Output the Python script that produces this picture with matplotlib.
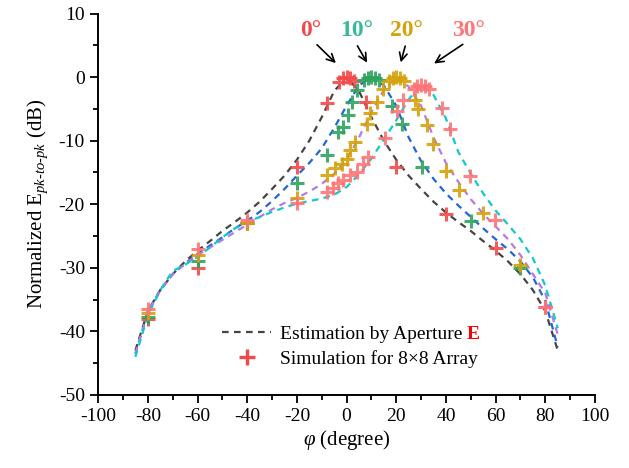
import matplotlib
matplotlib.use("Agg")
import matplotlib.pyplot as plt
from matplotlib.ticker import MultipleLocator
from matplotlib.lines import Line2D
from matplotlib.transforms import IdentityTransform

plt.rcParams['font.family'] = ['Liberation Serif', 'DejaVu Serif']
plt.rcParams['mathtext.fontset'] = 'custom'
plt.rcParams['mathtext.rm'] = 'Liberation Serif'
plt.rcParams['mathtext.it'] = 'Liberation Serif:italic'
plt.rcParams['mathtext.bf'] = 'Liberation Serif:bold'
plt.rcParams['axes.unicode_minus'] = False

# estimation by aperture E (dashed lines), steering 0/10/20/30 deg
est_phi = [-85, -80, -75, -70, -65, -60, -55, -50, -45, -40, -35, -30, -25, -20, -15, -10, -5,
           0, 5, 10, 15, 20, 25, 30, 35, 40, 45, 50, 55, 60, 65, 70, 75, 80, 85]
est_0 = [-43.0, -36.8, -33.5, -31.0, -29.0, -27.3, -25.8, -24.2, -22.8, -21.3, -19.6, -17.6, -15.5,
         -13.0, -10.0, -6.3, -2.2, 0.0, -2.2, -6.3, -10.0, -13.0, -15.5, -17.6, -19.6, -21.3, -22.8,
         -24.2, -25.8, -27.3, -29.0, -31.0, -33.5, -36.8, -43.0]
est_10 = [-43.5, -37.0, -33.5, -31.0, -29.3, -27.8, -26.5, -25.2, -23.8, -22.6, -21.2, -19.5, -17.6,
          -15.5, -13.5, -11.2, -8.0, -4.5, -1.3, 0.0, -1.3, -4.5, -9.5, -13.2, -16.0, -18.3, -20.2,
          -22.0, -23.8, -25.5, -27.1, -29.0, -31.5, -35.2, -42.5]
est_20 = [-43.5, -37.0, -33.5, -31.0, -29.4, -28.0, -26.8, -25.6, -24.4, -23.2, -22.0, -20.8, -19.8,
          -19.0, -18.0, -16.8, -15.2, -13.0, -9.5, -5.5, -2.0, 0.0, -1.5, -4.5, -9.5, -13.5, -16.5,
          -19.2, -21.5, -23.5, -25.5, -28.0, -31.0, -34.0, -40.5]
est_30 = [-44.0, -37.5, -33.5, -30.5, -29.5, -28.3, -26.8, -25.2, -23.8, -22.8, -22.0, -21.2, -20.5,
          -19.9, -19.5, -19.1, -18.5, -17.3, -15.3, -12.8, -9.8, -6.8, -3.5, -1.2, -2.8, -6.5, -11.8,
          -15.2, -18.3, -21.0, -23.2, -25.5, -28.5, -32.8, -39.5]

# simulation for 8x8 array (+ markers)
sim0_phi = [-80, -60, -40, -20, -8, -3, -1.5, 0, 1.5, 3, 8, 20, 40, 60, 80]
sim0_val = [-38.0, -30.0, -23.0, -14.1, -4.1, -0.7, -0.2, 0.0, -0.2, -0.6, -3.9, -14.1, -21.5,
            -26.9, -36.2]
sim10_phi = [-80, -60, -40, -20, -8, -3.3, -1.3, 0.7, 2.1, 4.1, 7, 8.5, 10, 11.5, 13,
             18.2, 22.2, 30.3, 50, 70]
sim10_val = [-37.8, -29.0, -23.0, -16.7, -12.2, -8.6, -7.8, -6.0, -3.9, -2.0, -0.5, -0.1, 0.0,
             -0.1, -0.5, -4.6, -7.4, -14.2, -22.6, -30.0]
sim20_phi = [-80, -60, -40, -20, -8, -4.6, -1.9, 0.1, 1.4, 3.4, 8.1, 9.5, 12.2, 14.8, 17, 18.5,
             20, 21.5, 23, 27.6, 28.9, 32.3, 34.6, 40, 45.4, 55, 70]
sim20_val = [-37.1, -28.0, -23.0, -19.0, -15.4, -14.3, -13.6, -12.8, -11.5, -10.2, -7.3, -5.7, -3.9,
             -1.8, -0.6, -0.2, 0.0, -0.2, -0.6, -3.6, -5.0, -7.5, -10.5, -14.8, -17.8, -21.3, -29.6]
sim30_phi = [-80, -60, -40, -20, -8, -5.3, -3.3, -1.3, 1.4, 4.1, 6.8, 8.8, 15.5, 20.2, 22.9, 27,
             28.5, 30, 31.5, 33, 38.3, 41.8, 49.8, 59.8, 80]
sim30_val = [-36.5, -27.0, -22.5, -19.8, -18.0, -17.5, -16.7, -16.2, -15.4, -14.9, -13.7, -12.5,
             -9.6, -5.4, -3.6, -1.8, -1.4, -1.3, -1.4, -1.8, -4.8, -8.1, -15.5, -22.4, -36.1]

est_colors = ['#454545', '#2166d9', '#b47ae6', '#12c9c9']
sim_colors = ['#f24a4a', '#2ea35e', '#d4a20a', '#ff7477']
label_colors = ['#f24a4a', '#36b89c', '#d4a20a', '#ff7477']
steer = ['0°', '10°', '20°', '30°']
label_pos = [(-14.5, 7.4), (4.2, 7.4), (24.2, 7.4), (49.0, 7.4)]
arrow_tip = [(-3.5, 1.9), (8.8, 1.9), (21.5, 1.9), (34.3, 1.9)]
arrow_tail = [(-12.7, 5.4), (3.8, 5.3), (23.9, 5.3), (47.7, 5.4)]

fig = plt.figure(figsize=(6.29, 4.68), dpi=100)
ax = fig.add_axes([0.156, 0.156, 0.79, 0.815])

for vals, c in zip([est_0, est_10, est_20, est_30], est_colors):
    ax.plot(est_phi, vals, color=c, lw=1.6, dashes=(3, 2.4), zorder=2)

sims = [(sim0_phi, sim0_val), (sim10_phi, sim10_val), (sim20_phi, sim20_val), (sim30_phi, sim30_val)]
for (p, v), c in zip(sims, sim_colors):
    ax.plot(p, v, ls='none', marker='+', ms=10, mew=2.2, color=c, alpha=0.9, zorder=3)

for s, c, pos, tip, tail in zip(steer, label_colors, label_pos, arrow_tip, arrow_tail):
    ax.text(pos[0], pos[1], s, color=c, fontsize=17, fontweight='bold', ha='center', va='center')
    ax.annotate('', xy=tip, xytext=tail,
                arrowprops=dict(arrowstyle='->', color='black', lw=1.2, mutation_scale=14))

ax.set_xlim(-100, 100)
ax.set_ylim(-50, 10)
ax.xaxis.set_major_locator(MultipleLocator(20))
ax.xaxis.set_minor_locator(MultipleLocator(10))
ax.yaxis.set_major_locator(MultipleLocator(10))
ax.yaxis.set_minor_locator(MultipleLocator(5))
ax.tick_params(which='major', direction='out', length=6, width=1.3, labelsize=14)
ax.tick_params(which='minor', direction='out', length=3.5, width=1.3)
for side in ['top', 'right']:
    ax.spines[side].set_visible(False)
for side in ['left', 'bottom']:
    ax.spines[side].set_linewidth(1.4)

ax.set_xlabel(r'$\varphi$ (degree)', fontsize=15, labelpad=2)
ax.set_ylabel(r'Normalized E$_{pk\text{-}to\text{-}pk}$ (dB)', fontsize=15, labelpad=6)

handles = [Line2D([], [], color=est_colors[0], lw=1.6, dashes=(3, 2.4)),
           Line2D([], [], ls='none', marker='+', ms=11, mew=2.4, color=sim_colors[0])]
leg = ax.legend(handles, ['Estimation by Aperture', 'Simulation for 8×8 Array'],
                loc='center left', bbox_to_anchor=(0.25, 0.127), frameon=False, fontsize=14,
                handlelength=2.5, handletextpad=0.45, borderpad=0, borderaxespad=0, labelspacing=0.35)

# red bold "E" right after the first legend entry
fig.canvas.draw()
bb = leg.get_texts()[0].get_window_extent()
fig.text(bb.x1 + 5, bb.y0, 'E', transform=IdentityTransform(), color='red', fontsize=14,
         fontweight='bold', ha='left', va='bottom')

fig.savefig('out.png', dpi=100)
